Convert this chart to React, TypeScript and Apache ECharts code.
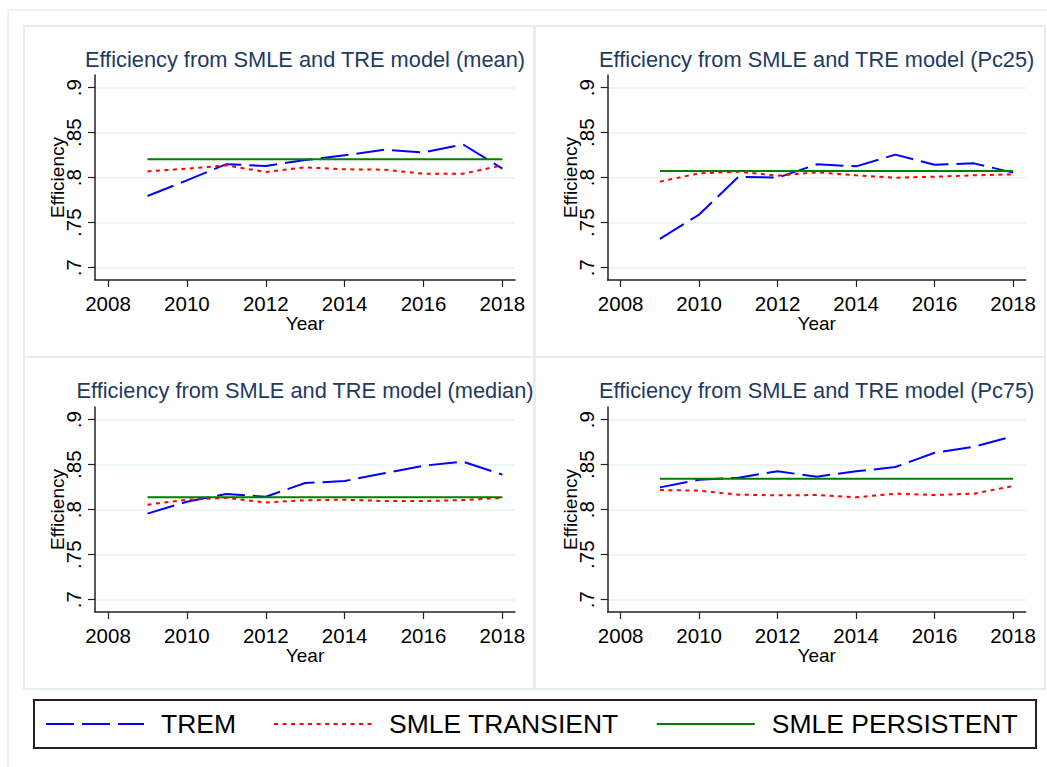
import React, { useEffect, useRef } from "react";
import * as echarts from "echarts";

const years = [2009, 2010, 2011, 2012, 2013, 2014, 2015, 2016, 2017, 2018];

const meanTrem = [0.7796, 0.797, 0.815, 0.813, 0.8196, 0.8248, 0.8311, 0.8281, 0.837, 0.81];
const meanTransient = [0.807, 0.81, 0.8137, 0.8063, 0.8115, 0.8093, 0.8089, 0.8044, 0.8044, 0.8137];
const meanPersistent = [0.8204, 0.8204, 0.8204, 0.8204, 0.8204, 0.8204, 0.8204, 0.8204, 0.8204, 0.8204];

const pc25Trem = [0.7319, 0.759, 0.801, 0.8, 0.8148, 0.8126, 0.8256, 0.8144, 0.8159, 0.8056];
const pc25Transient = [0.7956, 0.8048, 0.8067, 0.8022, 0.806, 0.8026, 0.8, 0.8011, 0.8026, 0.8037];
const pc25Persistent = [0.8074, 0.8074, 0.8074, 0.8074, 0.8074, 0.8074, 0.8074, 0.8074, 0.8074, 0.8074];

const medianTrem = [0.7956, 0.8089, 0.8174, 0.8144, 0.8296, 0.8319, 0.8404, 0.8489, 0.8533, 0.8389];
const medianTransient = [0.8056, 0.8111, 0.813, 0.8081, 0.8104, 0.8111, 0.8096, 0.8096, 0.8107, 0.813];
const medianPersistent = [0.8137, 0.8137, 0.8137, 0.8137, 0.8137, 0.8137, 0.8137, 0.8137, 0.8137, 0.8137];

const pc75Trem = [0.8248, 0.8333, 0.8356, 0.8426, 0.8367, 0.8426, 0.8474, 0.8633, 0.87, 0.8815];
const pc75Transient = [0.8219, 0.8211, 0.8167, 0.8159, 0.8163, 0.8137, 0.8178, 0.8163, 0.8178, 0.8263];
const pc75Persistent = [0.8344, 0.8344, 0.8344, 0.8344, 0.8344, 0.8344, 0.8344, 0.8344, 0.8344, 0.8344];

const xTicks = [2008, 2010, 2012, 2014, 2016, 2018];
const yTicks = [0.7, 0.75, 0.8, 0.85, 0.9];

const panelTitles = [
  "Efficiency from SMLE and TRE model (mean)",
  "Efficiency from SMLE and TRE model (Pc25)",
  "Efficiency from SMLE and TRE model (median)",
  "Efficiency from SMLE and TRE model (Pc75)",
];

const seriesNames = ["TREM", "SMLE TRANSIENT", "SMLE PERSISTENT"];

const panels = [
  [meanTrem, meanTransient, meanPersistent],
  [pc25Trem, pc25Transient, pc25Persistent],
  [medianTrem, medianTransient, medianPersistent],
  [pc75Trem, pc75Transient, pc75Persistent],
];

const FONT = "'Liberation Sans', Arial, Helvetica, sans-serif";

export default function App() {
  const ref = useRef<HTMLDivElement>(null);

  useEffect(() => {
    document.body.style.margin = "0";
    if (!ref.current) return;
    const chart = echarts.init(ref.current, null, { renderer: "svg" });

    const grids = [
      { left: 95, top: 75, width: 420, height: 205 },
      { left: 607.7, top: 75, width: 418, height: 205 },
      { left: 95, top: 407, width: 420, height: 205 },
      { left: 607.7, top: 407, width: 418, height: 205 },
    ];

    const titleTops = [48.3, 48.3, 379.9, 379.9];

    const lineStyles = [
      { color: "#0000ff", width: 2, type: [28, 8] },
      { color: "#ff0000", width: 2, type: [4, 4.5] },
      { color: "#008000", width: 2, type: "solid" },
    ];

    const xAxes = grids.map((_, i) => ({
      type: "value",
      gridIndex: i,
      min: 2007.67,
      max: 2018.32,
      name: "Year",
      nameLocation: "middle",
      nameGap: 34,
      nameMoveOverlap: false,
      nameTextStyle: { fontSize: 19, color: "#000", fontFamily: FONT },
      axisLine: { show: true, onZero: false, lineStyle: { color: "#222", width: 1.5 } },
      axisTick: { show: true, length: 7, customValues: xTicks, lineStyle: { color: "#222", width: 1.2 } },
      axisLabel: {
        customValues: xTicks,
        margin: 13,
        fontSize: 20.5,
        color: "#000",
        fontFamily: FONT,
        formatter: (v: number) => String(v),
      },
      splitLine: { show: false },
    }));

    const yAxes = grids.map((_, i) => ({
      type: "value",
      gridIndex: i,
      min: 0.6863,
      max: 0.9141,
      name: "Efficiency",
      nameLocation: "middle",
      nameRotate: 90,
      nameGap: 28,
      nameMoveOverlap: false,
      nameTextStyle: { fontSize: 19, color: "#000", fontFamily: FONT },
      axisLine: { show: true, onZero: false, lineStyle: { color: "#222", width: 1.5 } },
      axisTick: { show: true, length: 7, customValues: yTicks, lineStyle: { color: "#222", width: 1.2 } },
      axisLabel: {
        customValues: yTicks,
        rotate: 90,
        margin: 11,
        fontSize: 20.5,
        color: "#000",
        fontFamily: FONT,
        formatter: (v: number) => String(Number(v.toFixed(2))).replace(/^0/, ""),
      },
      splitLine: { show: true, lineStyle: { color: "#eaf1f3", width: 1.5 } },
    }));

    const series: any[] = [];
    panels.forEach((panel, pi) => {
      panel.forEach((vals, si) => {
        series.push({
          type: "line",
          name: seriesNames[si],
          xAxisIndex: pi,
          yAxisIndex: pi,
          data: years.map((y, k) => [y, vals[k]]),
          symbol: "none",
          lineStyle: lineStyles[si],
          itemStyle: { color: lineStyles[si].color },
        });
      });
    });

    const titles = grids.map((g, i) => ({
      text: panelTitles[i],
      left: g.left + g.width / 2,
      top: titleTops[i],
      textAlign: "center",
      padding: 0,
      textStyle: { fontSize: 21.8, fontWeight: "normal", color: "#223a5e", fontFamily: FONT },
    }));

    const frameColor = "#e6eef1";

    chart.setOption({
      animation: false,
      backgroundColor: "#ffffff",
      title: titles,
      grid: grids,
      xAxis: xAxes,
      yAxis: yAxes,
      series,
      legend: {
        data: seriesNames,
        left: 45,
        top: 710.5,
        padding: 0,
        itemWidth: 98,
        itemHeight: 14,
        itemGap: 37,
        itemStyle: { opacity: 0 },
        textStyle: { fontSize: 26.5, color: "#000", fontFamily: FONT, padding: [0, 0, 0, 12] },
      },
      graphic: [
        { type: "rect", shape: { x: 8, y: 10, width: 1060, height: 780 }, style: { fill: "none", stroke: frameColor, lineWidth: 1.5 }, silent: true },
        { type: "rect", shape: { x: 24, y: 26, width: 510, height: 331 }, style: { fill: "none", stroke: frameColor, lineWidth: 2 }, silent: true },
        { type: "rect", shape: { x: 535, y: 26, width: 510, height: 331 }, style: { fill: "none", stroke: frameColor, lineWidth: 2 }, silent: true },
        { type: "rect", shape: { x: 24, y: 357, width: 510, height: 332 }, style: { fill: "none", stroke: frameColor, lineWidth: 2 }, silent: true },
        { type: "rect", shape: { x: 535, y: 357, width: 510, height: 332 }, style: { fill: "none", stroke: frameColor, lineWidth: 2 }, silent: true },
        { type: "rect", shape: { x: 34, y: 700, width: 1002, height: 48 }, style: { fill: "none", stroke: "#222", lineWidth: 2 }, silent: true },
      ],
    });

    return () => {
      chart.dispose();
    };
  }, []);

  return (
    <div
      ref={ref}
      style={{ position: "absolute", left: 0, top: 0, width: 1047, height: 767 }}
    />
  );
}
